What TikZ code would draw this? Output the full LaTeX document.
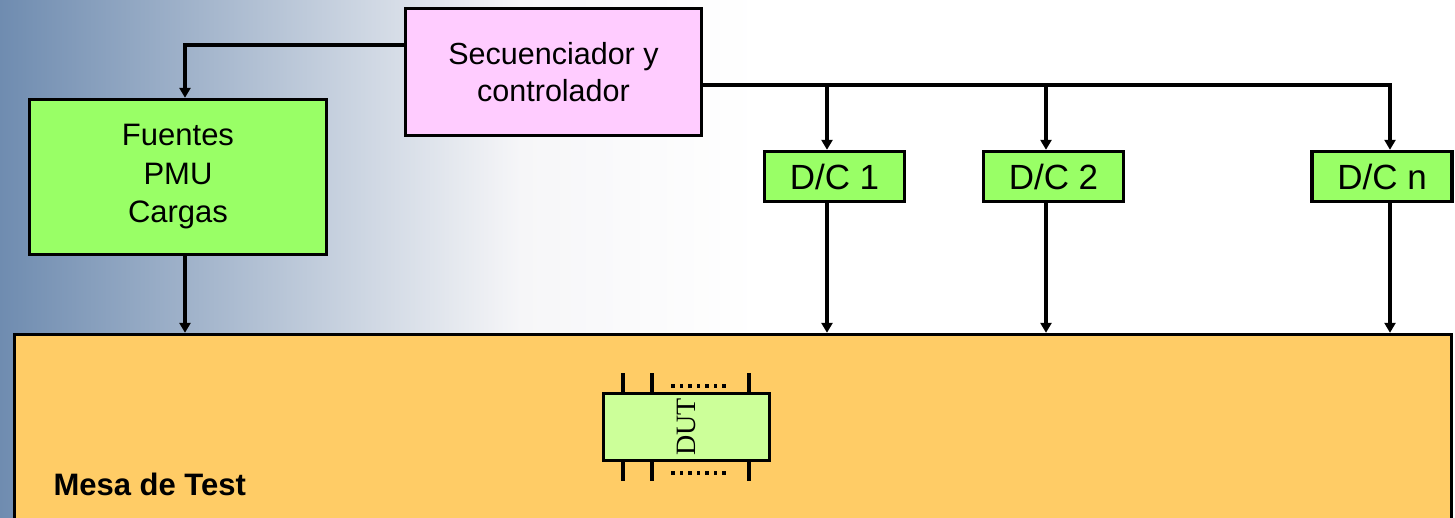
\documentclass[tikz,border=0pt]{standalone}
\usepackage{fontspec}
\setmainfont{Liberation Sans}
\newfontfamily\dutfont{Liberation Serif}
\usetikzlibrary{arrows.meta}

\definecolor{bgblue}{HTML}{6F8CB0}
\definecolor{bgmid}{HTML}{C4CDDA}
\definecolor{bgpale}{HTML}{F6F6F8}
\definecolor{seqpink}{HTML}{FFCCFF}
\definecolor{boxgreen}{HTML}{99FF66}
\definecolor{tablegold}{HTML}{FFCC66}
\definecolor{chipgreen}{HTML}{CCFF99}

\tikzset{
  block/.style={draw=black, line width=3.4pt, inner sep=0pt, align=center},
  seqbox/.style={block, fill=seqpink, minimum width=296pt, minimum height=127pt,
                 font=\fontsize{30.5}{37}\selectfont},
  srcbox/.style={block, fill=boxgreen, minimum width=297pt, minimum height=155pt,
                 font=\fontsize{31}{38.5}\selectfont},
  dcbox/.style={block, fill=boxgreen, minimum width=140pt, minimum height=50pt,
                font=\fontsize{35}{40}\selectfont},
  tablebox/.style={block, fill=tablegold, minimum width=1437pt, minimum height=226pt},
  chipbox/.style={block, fill=chipgreen, minimum width=166pt, minimum height=67pt,
                  font=\dutfont\fontsize{28}{32}\selectfont},
  link/.style={draw=black, line width=3.4pt},
  arr/.style={link, -{Triangle[length=10pt,width=11pt]}},
  chippin/.style={draw=black, line width=3.4pt},
}

\begin{document}
\begin{tikzpicture}[x=1pt, y=-1pt]
  \useasboundingbox (0,0) rectangle (1455,518);

  % backdrop: blue-grey wash fading to white on the right
  \fill[white] (0,0) rectangle (1455,518);
  \shade[left color=bgblue, middle color=bgmid, right color=bgpale]
    (0,0) rectangle (520,518);
  \shade[left color=bgpale, right color=white] (519,0) rectangle (760,518);

  % blocks
  \node[seqbox] (seq) at (553.5,72) {Secuenciador y\\controlador};
  \node[srcbox] (src) at (178,177) {Fuentes\\PMU\\Cargas};
  \node[dcbox] (dc1) at (834.5,176.5) {D/C 1};
  \node[dcbox] (dc2) at (1053.5,176.5) {D/C 2};
  \node[dcbox] (dcn) at (1382,176.5) {D/C n};
  \node[tablebox] (mesa) at (733,447.5) {};
  \node[anchor=base west, font=\bfseries\fontsize{31}{36}\selectfont]
    (mesalbl) at (50,495) {Mesa de Test};

  % tap points of the connectors
  \coordinate (ctlL) at ([yshift=27pt]seq.west);
  \coordinate (ctlR) at ([yshift=-13pt]seq.east);
  \coordinate (srcin) at ([xshift=7pt]src.north);
  \coordinate (srcout) at ([xshift=7pt]src.south);
  \coordinate (d1in) at ([xshift=-7.5pt]dc1.north);
  \coordinate (d1out) at ([xshift=-7.5pt]dc1.south);
  \coordinate (d2in) at ([xshift=-7.5pt]dc2.north);
  \coordinate (d2out) at ([xshift=-7.5pt]dc2.south);
  \coordinate (dnin) at ([xshift=8pt]dcn.north);
  \coordinate (dnout) at ([xshift=8pt]dcn.south);

  % controller to sources and drivers
  \draw[arr] (ctlL) -| (srcin);
  \draw[arr] (ctlR) -| (dnin);
  \draw[arr] (d1in |- ctlR) -- (d1in);
  \draw[arr] (d2in |- ctlR) -- (d2in);

  % everything feeds the test table
  \draw[arr] (srcout) -- (srcout |- mesa.north);
  \draw[arr] (d1out) -- (d1out |- mesa.north);
  \draw[arr] (d2out) -- (d2out |- mesa.north);
  \draw[arr] (dnout) -- (dnout |- mesa.north);

  % device under test with its pins
  \node[chipbox] (dut) at (686.5,427) {\rotatebox{90}{DUT}};
  \foreach \dx in {-63.5,-34.5,62.5} {
    \draw[chippin] ([xshift=\dx pt]dut.north) -- ++(0,-19);
    \draw[chippin] ([xshift=\dx pt]dut.south) -- ++(0,19);
  }
  \foreach \i in {0,...,6} {
    \fill (673+\i*8.5-1.8,386-1.8) rectangle ++(3.6,3.6);
    \fill (673+\i*8.5-1.8,473-1.8) rectangle ++(3.6,3.6);
  }
\end{tikzpicture}
\end{document}
